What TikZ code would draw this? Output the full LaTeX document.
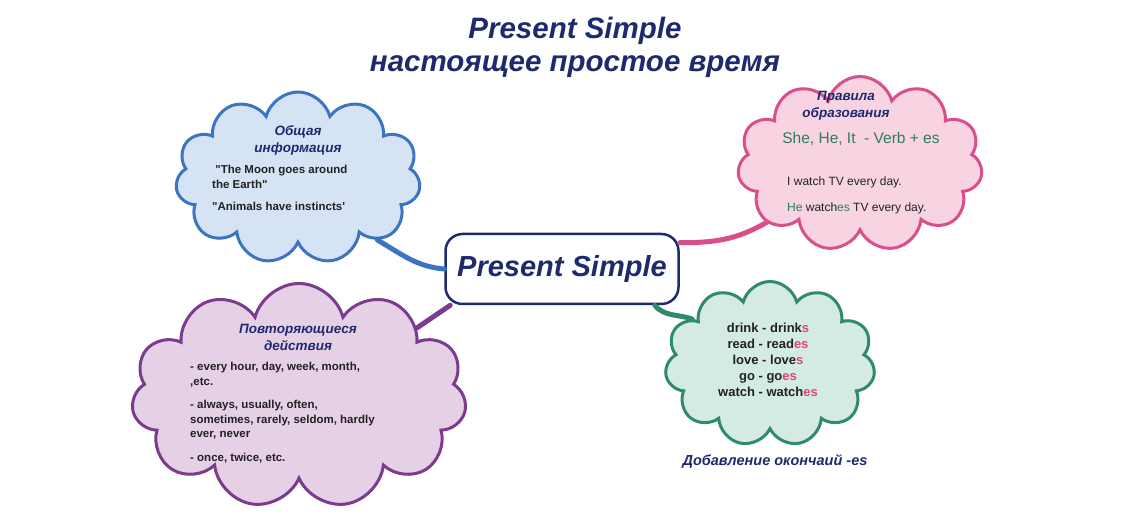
\documentclass[tikz,border=0pt]{standalone}
\usepackage{fontspec}
\setmainfont{Liberation Sans}
\usetikzlibrary{shapes.symbols, positioning}
\definecolor{navy}{HTML}{1D2B6E}
\definecolor{inkgray}{HTML}{222222}
\definecolor{bluefill}{HTML}{D5E3F5}
\definecolor{blueline}{HTML}{3B75C2}
\definecolor{pinkfill}{HTML}{F8D3E2}
\definecolor{pinkline}{HTML}{D94F8B}
\definecolor{purplefill}{HTML}{E6D0E6}
\definecolor{purpleline}{HTML}{7B3B8F}
\definecolor{greenfill}{HTML}{D4EBE2}
\definecolor{greenline}{HTML}{308A6C}
\definecolor{rulegreen}{HTML}{2E7D5E}
\definecolor{endpink}{HTML}{E0457F}
\tikzset{
    cloudbox/.style={cloud, cloud puffs=11, cloud ignores aspect, line width=3pt, inner sep=0pt},
    heading/.style={font=\fontsize{13.5}{17}\selectfont\bfseries\itshape, text=navy, align=center, inner sep=0pt},
    bodytext/.style={font=\fontsize{11.5}{14.5}\selectfont\bfseries, text=inkgray, align=left, inner sep=0pt},
    link/.style={line width=5pt, line cap=round}
}
\newcommand{\es}[1]{\textcolor{endpink}{#1}}
\begin{document}
\begin{tikzpicture}[x=1pt, y=1pt]
    \useasboundingbox (0,0) rectangle (1140,-518);

    % Titel
    \node[font=\fontsize{29.5}{32}\selectfont\bfseries\itshape, text=navy] (title) at (575,-31) {Present Simple};
    \node[font=\fontsize{29.5}{32}\selectfont\bfseries\itshape, text=navy] (subtitle) at (575,-67) {настоящее простое время};

    % --- WOLKEN ---
    \node[cloudbox, draw=blueline, fill=bluefill, minimum width=245, minimum height=172] (info) at (298,-178) {};
    \node[cloudbox, draw=pinkline, fill=pinkfill, minimum width=245, minimum height=175] (rules) at (860,-164) {};
    \node[cloudbox, draw=purpleline, fill=purplefill, minimum width=335, minimum height=225] (repeat) at (299,-396) {};
    \node[cloudbox, draw=greenline, fill=greenfill, minimum width=210, minimum height=165] (ending) at (770,-364) {};

    % Zentrale Box
    \node[draw=navy, line width=2.5pt, fill=white, rounded corners=17pt, minimum width=233, minimum height=70,
          font=\fontsize{29}{32}\selectfont\bfseries\itshape, text=navy] (ps) at (562,-269) {Present Simple};

    % --- VERBINDUNGEN ---
    \draw[link, blueline] (info.-38) to[out=-30, in=175] (ps.west);
    \draw[link, pinkline] ([yshift=-10pt]ps.north east) to[out=0, in=-150] (rules.-148);
    \draw[link, purpleline] (repeat.30) -- ([xshift=6pt]ps.south west);
    \draw[link, greenline] ([xshift=-25pt]ps.south east) to[out=-50, in=160] (ending.150);

    % Allgemeine Information
    \node[heading] (infohead) at (298,-140) {Общая\\информация};
    \node[bodytext, anchor=north west] (infotext) at (212,-165)
        {~\textquotedbl The Moon goes around\\the Earth\textquotedbl\\[8pt]\textquotedbl Animals have instincts\textquotesingle};

    % Bildungsregeln
    \node[heading] (ruleshead) at (846,-106) {Правила\\образования};
    \node[font=\fontsize{15.5}{18}\selectfont, text=rulegreen, inner sep=0pt] (rule) at (861,-139) {She, He, It~ - Verb + es};
    \node[font=\fontsize{12}{14}\selectfont, text=inkgray, anchor=west, inner sep=0pt] (ex1) at (787,-182) {I watch TV every day.};
    \node[font=\fontsize{12}{14}\selectfont, text=inkgray, anchor=west, inner sep=0pt] (ex2) at (787,-208)
        {\textcolor{rulegreen}{He} watch\textcolor{rulegreen}{es} TV every day.};

    % Wiederholte Handlungen
    \node[heading] (repeathead) at (298,-337) {Повторяющиеся\\действия};
    \node[bodytext, anchor=north west] (repeattext) at (190,-362)
        {- every hour, day, week, month,\\,etc.\\[9pt]- always, usually, often,\\sometimes, rarely, seldom, hardly\\ever, never\\[9pt]- once, twice, etc.};

    % Endungen
    \node[font=\fontsize{13}{16}\selectfont\bfseries, text=inkgray, align=center, inner sep=0pt] (endtext) at (768,-360)
        {drink - drink\es{s}\\read - read\es{es}\\love - love\es{s}\\go - go\es{es}\\watch - watch\es{es}};
    \node[font=\fontsize{14.5}{17}\selectfont\bfseries\itshape, text=navy] (endcap) at (775,-462) {Добавление окончаий -es};
\end{tikzpicture}
\end{document}
